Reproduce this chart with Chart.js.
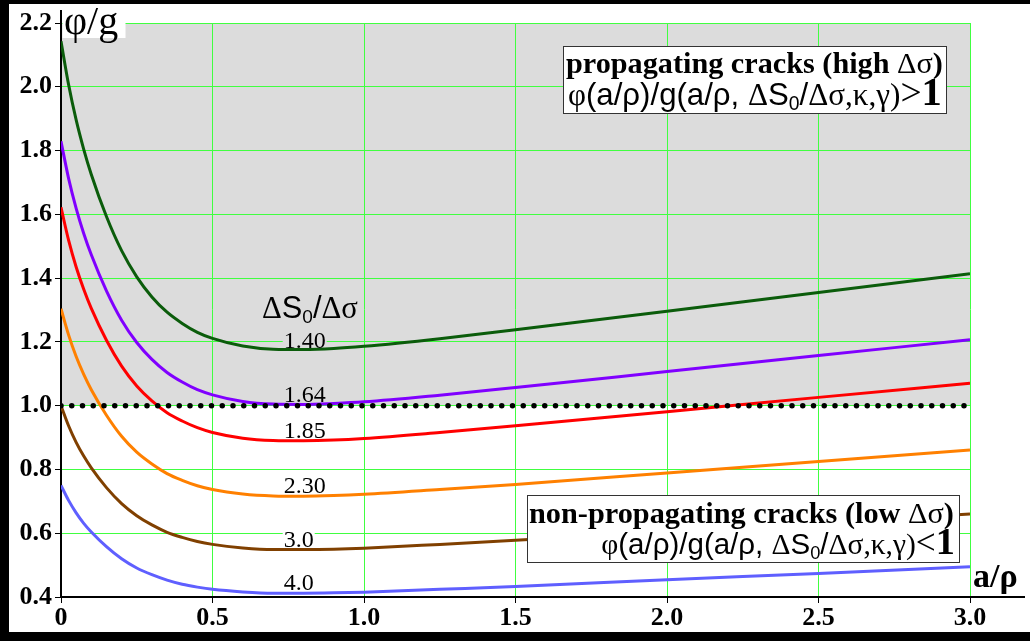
<!DOCTYPE html>
<html>
<head>
<meta charset="utf-8">
<script src="https://cdn.jsdelivr.net/npm/chart.js@4.4.1/dist/chart.umd.min.js"></script>
<style>
html, body { margin: 0; padding: 0; background: #fff; }
#wrap { position: relative; width: 1030px; height: 641px; overflow: hidden; }
#wrap canvas { position: absolute; left: 0; top: 0; }
.bar { position: absolute; background: #000; }
</style>
</head>
<body>
<div id="wrap">
  <canvas id="phiChart" width="1030" height="641"></canvas>
  <div class="bar" style="left:0;top:0;width:1030px;height:4px"></div>
  <div class="bar" style="left:0;top:0;width:9px;height:641px"></div>
  <div class="bar" style="left:0;top:632px;width:1030px;height:9px"></div>
</div>
<script>
// phi/g against a/rho for several stress ratios dS0/dsigma
var aRho = [0, 0.025, 0.05, 0.075, 0.1, 0.15, 0.2, 0.25, 0.3, 0.35, 0.4, 0.45, 0.5, 0.6, 0.7, 0.8, 0.9, 1.0, 1.25, 1.5, 2.0, 2.5, 3.0];

var ratios = ['1.40', '1.64', '1.85', '2.30', '3.0', '4.0'];

var phiG140 = [2.143, 2.007, 1.896, 1.804, 1.725, 1.593, 1.486, 1.404, 1.341, 1.293, 1.258, 1.230, 1.211, 1.187, 1.177, 1.176, 1.179, 1.186, 1.210, 1.238, 1.296, 1.355, 1.414];
var phiG164 = [1.829, 1.713, 1.619, 1.540, 1.473, 1.360, 1.268, 1.198, 1.145, 1.104, 1.074, 1.050, 1.034, 1.013, 1.005, 1.004, 1.007, 1.012, 1.033, 1.057, 1.107, 1.157, 1.207];
var phiG185 = [1.622, 1.519, 1.435, 1.365, 1.305, 1.205, 1.124, 1.062, 1.015, 0.978, 0.952, 0.931, 0.916, 0.898, 0.891, 0.890, 0.892, 0.897, 0.916, 0.937, 0.981, 1.026, 1.070];
var phiG230 = [1.304, 1.222, 1.154, 1.098, 1.050, 0.970, 0.904, 0.854, 0.817, 0.787, 0.766, 0.749, 0.737, 0.723, 0.717, 0.716, 0.718, 0.722, 0.737, 0.753, 0.789, 0.825, 0.861];
var phiG300 = [1.000, 0.937, 0.885, 0.842, 0.805, 0.743, 0.693, 0.655, 0.626, 0.603, 0.587, 0.574, 0.565, 0.554, 0.549, 0.549, 0.550, 0.553, 0.565, 0.578, 0.605, 0.633, 0.660];
var phiG400 = [0.750, 0.703, 0.664, 0.631, 0.604, 0.558, 0.520, 0.491, 0.470, 0.453, 0.440, 0.431, 0.424, 0.416, 0.412, 0.412, 0.413, 0.415, 0.424, 0.433, 0.454, 0.474, 0.495];

// threshold phi/g = 1
var thresholdX = [0, 3.0];
var thresholdY = [1.0, 1.0];

var xTickLabels = ['0', '0.5', '1.0', '1.5', '2.0', '2.5', '3.0'];
var yTickLabels = ['0.4', '0.6', '0.8', '1.0', '1.2', '1.4', '1.6', '1.8', '2.0', '2.2'];

// where the ratio labels sit (data units)
var labelA = 0.735;
var labelBase = [1.181, 1.012, 0.899, 0.727, 0.557, 0.423];

var series = [phiG140, phiG164, phiG185, phiG230, phiG300, phiG400];
var curveColors = ['#0b5c0b', '#8000ff', '#ff0000', '#ff8000', '#804000', '#5f5fff'];

var SERIF = '"Liberation Serif", "Times New Roman", serif';
var SANS = '"Liberation Sans", Arial, sans-serif';
var GRAY = '#dcdcdc';

function points(xs, ys) {
    return xs.map(function (x, i) { return { x: x, y: ys[i] }; });
}

function runFont(kind, size) {
    if (kind === 'bold') return 'bold ' + size + 'px ' + SERIF;
    if (kind === 'sans') return size + 'px ' + SANS;
    if (kind === 'sub') return (size * 0.62) + 'px ' + SANS;
    if (kind === 'big') return 'bold ' + (size * 1.3) + 'px ' + SERIF;
    if (kind === 'mid') return (size * 1.2) + 'px ' + SERIF;
    return size + 'px ' + SERIF;
}

function runsWidth(ctx, runs, size) {
    var w = 0;
    runs.forEach(function (r) { ctx.font = runFont(r[1], size); w += ctx.measureText(r[0]).width; });
    return w;
}

// draw mixed-font text; if width given, the size is fitted to it
function drawRuns(ctx, runs, x, base, size, width, align) {
    if (width) size = 100 * width / runsWidth(ctx, runs, 100);
    var w = runsWidth(ctx, runs, size);
    var cx = align === 'right' ? x - w : x;
    ctx.textAlign = 'left';
    ctx.textBaseline = 'alphabetic';
    runs.forEach(function (r) {
        ctx.font = runFont(r[1], size);
        ctx.fillText(r[0], cx, base + (r[1] === 'sub' ? size * 0.17 : 0));
        cx += ctx.measureText(r[0]).width;
    });
}

function eqRuns(sign) {
    return [['φ', 'serif'], ['(a/ρ)/g(a/ρ, ', 'sans'], ['Δ', 'serif'], ['S', 'sans'], ['0', 'sub'],
            ['/', 'sans'], ['Δσ', 'serif'], [',κ,γ)', 'serif'], [sign, 'mid'], ['1', 'big']];
}

function box(ctx, x, y, w, h) {
    ctx.fillStyle = '#fff';
    ctx.fillRect(x, y, w, h);
    ctx.strokeStyle = '#333';
    ctx.lineWidth = 1;
    ctx.strokeRect(x + 0.5, y + 0.5, w, h);
}

var decor = {
    id: 'decor',
    beforeDatasetsDraw: function (chart) {
        var ctx = chart.ctx, xs = chart.scales.x, ys = chart.scales.y;
        ctx.save();
        ctx.fillStyle = '#fff';
        ctx.fillRect(xs.left + 1.5, 4, 63, 34);
        ctx.font = '24px ' + SERIF;
        ratios.forEach(function (r, i) {
            var x = xs.getPixelForValue(labelA), y = ys.getPixelForValue(labelBase[i]);
            ctx.fillStyle = labelBase[i] > 1 ? GRAY : '#fff';
            ctx.fillRect(x - 1, y - 17, ctx.measureText(r).width + 2, 17);
        });
        ctx.restore();
    },
    afterDatasetsDraw: function (chart) {
        var ctx = chart.ctx, xs = chart.scales.x, ys = chart.scales.y;
        ctx.save();
        // axis lines run a bit past the plot
        ctx.strokeStyle = '#000';
        ctx.lineWidth = 2;
        ctx.beginPath();
        ctx.moveTo(xs.left, ys.top);
        ctx.lineTo(xs.left, 10);
        ctx.moveTo(xs.right, ys.bottom);
        ctx.lineTo(1025, ys.bottom);
        ctx.stroke();

        ctx.fillStyle = '#000';
        drawRuns(ctx, [['φ/g', 'serif']], xs.left + 3, 34, 40);
        drawRuns(ctx, [['a/ρ', 'bold']], 973, 587, 34);

        // ratio labels on the curves
        drawRuns(ctx, [['Δ', 'serif'], ['S', 'sans'], ['0', 'sub'], ['/', 'sans'], ['Δσ', 'serif']],
                 262, 318, 24, 96);
        ratios.forEach(function (r, i) {
            drawRuns(ctx, [[r, 'serif']], xs.getPixelForValue(labelA), ys.getPixelForValue(labelBase[i]), 24);
        });

        // region notes
        box(ctx, 563, 46, 383, 67);
        ctx.fillStyle = '#000';
        drawRuns(ctx, [['propagating cracks (high ', 'bold'], ['Δσ', 'serif'], [')', 'bold']], 566, 73, 26, 377);
        drawRuns(ctx, eqRuns('>'), 568, 105, 26, 374);

        box(ctx, 527, 495, 432, 67);
        ctx.fillStyle = '#000';
        drawRuns(ctx, [['non-propagating cracks (low ', 'bold'], ['Δσ', 'serif'], [')', 'bold']], 529, 523, 26, 425);
        drawRuns(ctx, eqRuns('<'), 955, 554, 26, 354, 'right');
        ctx.restore();
    }
};

var datasets = [{
    data: points(thresholdX, thresholdY),
    borderColor: '#000',
    borderWidth: 5.5,
    borderDash: [0, 10.75],
    borderCapStyle: 'round',
    backgroundColor: GRAY,
    fill: 'end',
    pointRadius: 0
}];
series.forEach(function (s, i) {
    datasets.push({
        label: ratios[i],
        data: points(aRho, s),
        borderColor: curveColors[i],
        borderWidth: 3,
        cubicInterpolationMode: 'monotone',
        fill: false,
        pointRadius: 0
    });
});

var ctx = document.getElementById('phiChart').getContext('2d');
var phiChart = new Chart(ctx, {
    type: 'line',
    data: { datasets: datasets },
    options: {
        responsive: false,
        animation: false,
        layout: { padding: { top: 23, right: 60, left: 0, bottom: 0 } },
        plugins: {
            legend: { display: false },
            tooltip: { enabled: false },
            filler: { drawTime: 'beforeDraw' }
        },
        scales: {
            x: {
                type: 'linear',
                min: 0,
                max: 3,
                ticks: {
                    stepSize: 0.5,
                    padding: 0,
                    color: '#000',
                    font: { family: SERIF, size: 26, weight: 'bold' },
                    callback: function (v, i) { return xTickLabels[i]; }
                },
                grid: { color: '#40ff40', lineWidth: 1, tickColor: '#000', tickLength: 6 },
                border: { color: '#000', width: 2 },
                afterFit: function (s) { s.height = 44; }
            },
            y: {
                min: 0.4,
                max: 2.2,
                ticks: {
                    stepSize: 0.2,
                    padding: 3,
                    color: '#000',
                    font: { family: SERIF, size: 26, weight: 'bold' },
                    callback: function (v, i) { return yTickLabels[i]; }
                },
                grid: { color: '#40ff40', lineWidth: 1, tickColor: '#000', tickLength: 6 },
                border: { color: '#000', width: 2 },
                afterFit: function (s) { s.width = 61; }
            }
        }
    },
    plugins: [decor]
});
</script>
</body>
</html>
